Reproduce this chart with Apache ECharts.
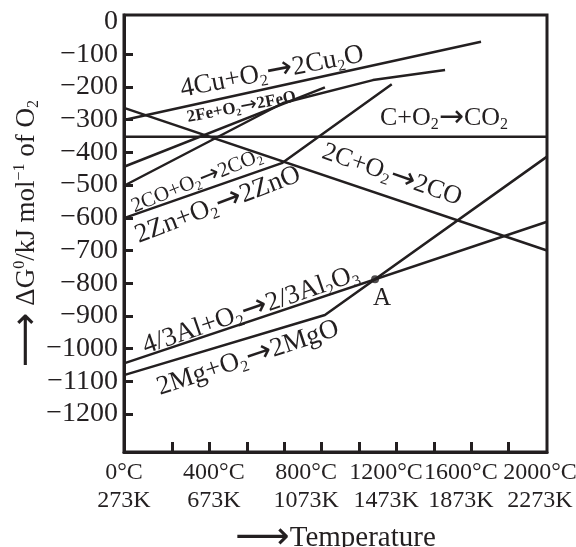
<!DOCTYPE html>
<html><head><meta charset="utf-8">
<script src="https://cdn.jsdelivr.net/npm/echarts@6/dist/echarts.min.js"></script>
<style>html,body{margin:0;padding:0;background:#fff}#c{width:576px;height:547px}</style>
</head><body><div id="c"></div>
<script>
// ---- data: temperature (°C) and ΔG° (kJ mol⁻¹ of O2) ----
const cuT = [0, 1688],               cuG = [-301, -62];
const feT = [0, 950],                feG = [-444, -201];
const coT = [0, 752, 1177, 1518],    coG = [-502, -249, -179, -148];
const cco2T = [0, 2000],             cco2G = [-352, -352];
const ccoT = [0, 2000],              ccoG = [-264, -700];
const znT = [0, 746, 1266],          znG = [-601, -433, -192];
const alT = [0, 2000],               alG = [-1045, -612];
const mgT = [0, 950, 2000],          mgG = [-1081, -897, -413];
const pointA = [1187, -788];

const yTickValues = [-100, -200, -300, -400, -500, -600, -700, -800, -900, -1000, -1100, -1200];
const yLabelValues = [0, -100, -200, -300, -400, -500, -600, -700, -800, -900, -1000, -1100, -1200];
const xTickValues = [227, 404, 581, 757, 934, 1111, 1288, 1465, 1641, 1818];
const celsiusLabels = ['0°C', '400°C', '800°C', '1200°C', '1600°C', '2000°C'];
const kelvinLabels = ['273K', '673K', '1073K', '1473K', '1873K', '2273K'];

const reactionLabels = {
  cu: '4Cu+O{s|2}{a|\u2192}2Cu{s|2}O',
  fe: '2Fe+O{s|2}{a|\u2192}2FeO',
  cco2: 'C+O{s|2}{a|\u2192}CO{s|2}',
  cco: '2C+O{s|2}{a|\u2192}2CO',
  co: '2CO+O{s|2}{a|\u2192}2CO{s|2}',
  zn: '2Zn+O{s|2}{a|\u2192}2ZnO',
  al: '4/3Al+O{s|2}{a|\u2192}2/3Al{s|2}O{s|3}',
  mg: '2Mg+O{s|2}{a|\u2192}2MgO',
  A: 'A'
};

// ---- presentation ----
const INK = '#231f20';
const SERIF = "'Liberation Serif','Times New Roman',serif";
const zip = (t, g) => t.map((v, i) => [v, g[i]]);
// where the printed temperature labels sit along the (hand-drawn) axis
const xLabelAt = [0, 425, 861, 1239, 1593, 1967];

const labelPlacement = {
  cu:   {at: [700, -154],  rot: 11,  size: 27},
  fe:   {at: [556, -262],  rot: 11,  size: 17, bold: true},
  cco2: {at: [1513, -295], rot: 0,   size: 26},
  cco:  {at: [1267, -469], rot: -19, size: 26},
  co:   {at: [345, -488],  rot: 22,  size: 21},
  zn:   {at: [444, -561],  rot: 21,  size: 27},
  al:   {at: [600, -882],  rot: 19,  size: 27},
  mg:   {at: [586, -1029], rot: 18.5,size: 27},
  A:    {at: [1220, -845], rot: 0,   size: 25}
};

const chart = echarts.init(document.getElementById('c'));
const lineSeries = (name, data) => ({
  name, type: 'line', data, showSymbol: false, silent: true, animation: false,
  lineStyle: {color: INK, width: 2.5}
});

const option = {
  animation: false,
  backgroundColor: '#fff',
  grid: {left: 124, right: 29, top: 15, bottom: 95, show: true, borderColor: INK, borderWidth: 3,
         containLabel: false, outerBoundsMode: 'none'},
  xAxis: {
    type: 'value', min: 0, max: 2000,
    axisLine: {show: true, onZero: false, lineStyle: {color: INK, width: 3}},
    splitLine: {show: false},
    axisTick: {show: true, inside: true, length: 10, lineStyle: {color: INK, width: 3}, customValues: xTickValues},
    axisLabel: {
      customValues: xLabelAt, margin: 7,
      formatter: v => { const i = xLabelAt.indexOf(v); return celsiusLabels[i] + '\n' + kelvinLabels[i]; },
      fontFamily: SERIF, fontSize: 24, lineHeight: 28, color: INK
    },
    name: '{arr|\u27F6}Temperature', nameLocation: 'middle', nameGap: 67, nameMoveOverlap: false,
    nameTextStyle: {fontFamily: SERIF, fontSize: 29, color: INK,
      rich: {arr: {fontFamily: "'DejaVu Sans'", fontSize: 38, color: INK}}}
  },
  yAxis: {
    type: 'value', min: -1316, max: 20,
    axisLine: {show: true, onZero: false, lineStyle: {color: INK, width: 3}},
    splitLine: {show: false},
    axisTick: {show: true, inside: true, length: 9, lineStyle: {color: INK, width: 3}, customValues: yTickValues},
    axisLabel: {
      customValues: yLabelValues, margin: 6,
      formatter: v => v < 0 ? '\u2212' + (-v) : String(v),
      fontFamily: SERIF, fontSize: 28, color: INK
    },
    name: '{arr|\u27F6} \u0394G{sup|0}/kJ mol{sup|\u22121} of O{sub|2}',
    nameLocation: 'middle', nameRotate: 90, nameGap: 82, nameMoveOverlap: false,
    nameTextStyle: {fontFamily: SERIF, fontSize: 27, color: INK, lineHeight: 30,
      rich: {
        arr: {fontFamily: "'DejaVu Sans'", fontSize: 38, color: INK},
        sup: {fontFamily: SERIF, fontSize: 16, verticalAlign: 'top', lineHeight: 16, color: INK},
        sub: {fontFamily: SERIF, fontSize: 16, verticalAlign: 'bottom', lineHeight: 16, color: INK}
      }}
  },
  series: [
    lineSeries('4Cu+O2→2Cu2O', zip(cuT, cuG)),
    lineSeries('2Fe+O2→2FeO', zip(feT, feG)),
    lineSeries('2CO+O2→2CO2', zip(coT, coG)),
    lineSeries('C+O2→CO2', zip(cco2T, cco2G)),
    lineSeries('2C+O2→2CO', zip(ccoT, ccoG)),
    lineSeries('2Zn+O2→2ZnO', zip(znT, znG)),
    lineSeries('4/3Al+O2→2/3Al2O3', zip(alT, alG)),
    lineSeries('2Mg+O2→2MgO', zip(mgT, mgG)),
    {name: 'A', type: 'scatter', data: [pointA], symbolSize: 8, itemStyle: {color: INK}, silent: true, animation: false}
  ]
};
chart.setOption(option);

const graphics = Object.keys(reactionLabels).map(k => {
  const p = labelPlacement[k];
  const [x, y] = chart.convertToPixel({gridIndex: 0}, p.at);
  const s = p.size;
  const w = p.bold ? 'bold' : 'normal';
  const lh = Math.round(s * 1.15);
  return {
    type: 'text', x, y, rotation: p.rot * Math.PI / 180, silent: true, z: 10,
    style: {
      text: reactionLabels[k], fill: INK,
      fontFamily: SERIF, fontSize: s, fontWeight: w,
      align: 'center', verticalAlign: 'middle', lineHeight: lh,
      rich: {
        s: {fontFamily: SERIF, fontSize: Math.round(s * 0.6), fontWeight: w,
            verticalAlign: 'bottom', lineHeight: Math.round(s * 0.6), fill: INK},
        a: {fontFamily: "'DejaVu Sans'", fontSize: Math.round(s * 1.15), fontWeight: 'normal',
            lineHeight: lh, fill: INK}
      }
    }
  };
});
chart.setOption({graphic: graphics});
</script></body></html>
